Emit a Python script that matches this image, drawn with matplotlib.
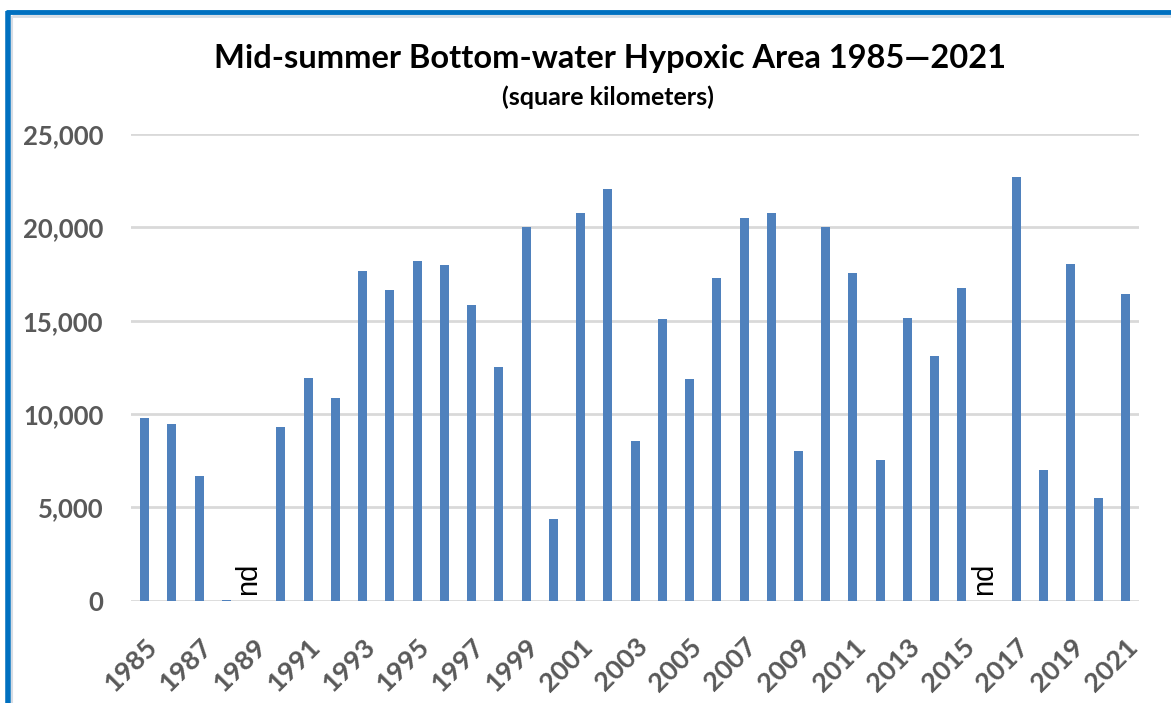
import matplotlib
matplotlib.use("Agg")
import matplotlib.pyplot as plt
from matplotlib.lines import Line2D
from matplotlib.transforms import ScaledTranslation
import numpy as np

years = list(range(1985, 2022))
# hypoxic area, square km (None = no data)
area = [9800, 9480, 6680, 40, None, 9320, 11950, 10850, 17640, 16620,
        18220, 17960, 15840, 12540, 20000, 4380, 20750, 22040, 8540, 15070,
        11860, 17290, 20500, 20750, 8040, 20000, 17540, 7520, 15160, 13130,
        16770, None, 22720, 7020, 18060, 5480, 16430]
no_data_years = [1989, 2016]
yticks = [0, 5000, 10000, 15000, 20000, 25000]

title = "Mid-summer Bottom-water Hypoxic Area 1985\u20142021"
subtitle = "(square kilometers)"

bar_color = "#4F81BD"
text_gray = "#595959"
font = "Lato"

fig = plt.figure(figsize=(11.71, 7.03), dpi=100)

# blue frame like the original chart box
fig.add_artist(Line2D([0.007, 0.007], [0, 0.985], transform=fig.transFigure,
                      color="#0070C0", lw=4, solid_capstyle="butt"))
fig.add_artist(Line2D([0.005, 1.0], [0.983, 0.983], transform=fig.transFigure,
                      color="#0070C0", lw=3.5, solid_capstyle="butt"))
fig.add_artist(Line2D([0.0105, 1.0], [0.9775, 0.9775], transform=fig.transFigure,
                      color="#D6DCE4", lw=2, solid_capstyle="butt"))
fig.add_artist(Line2D([0.0105, 0.0105], [0, 0.977], transform=fig.transFigure,
                      color="#D6DCE4", lw=1.5, solid_capstyle="butt"))

ax = fig.add_axes([0.1119, 0.1455, 0.8608, 0.6639])

x = np.arange(len(years))
vals = [0 if v is None else v for v in area]
ax.bar(x, vals, width=0.33, color=bar_color, zorder=3)

for y in no_data_years:
    i = years.index(y)
    ax.text(i - 0.2, 300, "nd", rotation=90, ha="center", va="bottom",
            fontsize=21, family="Liberation Sans", color="black", zorder=4)

ax.set_xlim(-0.5, len(years) - 0.5)
ax.set_ylim(0, 25000)
ax.set_yticks(yticks)
ax.set_yticklabels([f"{t:,}" for t in yticks], fontsize=18.5, fontweight="bold",
                   color=text_gray, family=font)
ax.set_xticks(x[::2])
ax.set_xticklabels([str(y) for y in years[::2]], rotation=45, ha="right",
                   rotation_mode="anchor", fontsize=19.5, fontweight="bold",
                   color=text_gray, family=font)
shift = ScaledTranslation(-9 / 100, 0, fig.dpi_scale_trans)
for lab in ax.get_xticklabels():
    lab.set_transform(lab.get_transform() + shift)
ax.tick_params(axis="both", length=0)
ax.tick_params(axis="y", pad=20)
ax.tick_params(axis="x", pad=24)

ax.grid(axis="y", color="#D9D9D9", lw=2, zorder=0)
for s in ax.spines.values():
    s.set_visible(False)

fig.text(0.521, 0.903, title, ha="center", va="baseline", fontsize=23.5,
         fontweight="bold", family=font, color="black")
fig.text(0.519, 0.851, subtitle, ha="center", va="baseline", fontsize=18,
         fontweight="bold", family=font, color="black")

fig.savefig("out.png", dpi=100, facecolor="white")
